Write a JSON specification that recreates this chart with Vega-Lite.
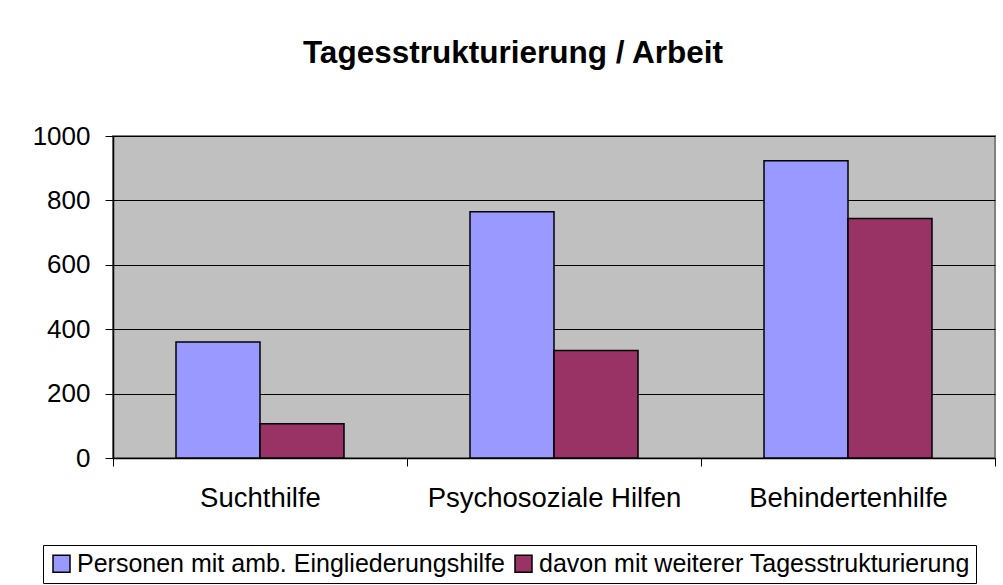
{
  "$schema": "https://vega.github.io/schema/vega-lite/v6.json",
  "width": 882,
  "height": 322,
  "autosize": {"type": "none"},
  "padding": {"left": 113, "top": 136, "right": 8, "bottom": 127},
  "background": "white",
  "title": {
    "text": "Tagesstrukturierung / Arbeit",
    "font": "Liberation Sans",
    "fontSize": 31.5,
    "fontWeight": "bold",
    "color": "black",
    "anchor": "middle",
    "frame": "group",
    "dx": -41,
    "offset": 54
  },
  "data": {
    "values": [
      {"category": "Suchthilfe", "series": "Personen mit amb. Eingliederungshilfe", "value": 360},
      {"category": "Suchthilfe", "series": "davon mit weiterer Tagesstrukturierung", "value": 106},
      {"category": "Psychosoziale Hilfen", "series": "Personen mit amb. Eingliederungshilfe", "value": 765},
      {"category": "Psychosoziale Hilfen", "series": "davon mit weiterer Tagesstrukturierung", "value": 334},
      {"category": "Behindertenhilfe", "series": "Personen mit amb. Eingliederungshilfe", "value": 923},
      {"category": "Behindertenhilfe", "series": "davon mit weiterer Tagesstrukturierung", "value": 744}
    ]
  },
  "mark": {"type": "bar", "stroke": "black", "strokeWidth": 1.5},
  "encoding": {
    "x": {
      "field": "category",
      "type": "nominal",
      "sort": ["Suchthilfe", "Psychosoziale Hilfen", "Behindertenhilfe"],
      "scale": {"paddingInner": 0, "paddingOuter": 0},
      "axis": {
        "title": null,
        "labelAngle": 0,
        "labelFont": "Liberation Sans",
        "labelFontSize": 27.5,
        "labelColor": "black",
        "labelPadding": 18,
        "labelLimit": 0,
        "tickBand": "extent",
        "tickSize": 8,
        "tickColor": "black",
        "domainColor": "black",
        "domainWidth": 1.5,
        "grid": false
      }
    },
    "xOffset": {
      "field": "series",
      "type": "nominal",
      "sort": ["Personen mit amb. Eingliederungshilfe", "davon mit weiterer Tagesstrukturierung"],
      "scale": {"paddingInner": 0, "paddingOuter": 0.75}
    },
    "y": {
      "field": "value",
      "type": "quantitative",
      "scale": {"domain": [0, 1000]},
      "axis": {
        "title": null,
        "values": [0, 200, 400, 600, 800, 1000],
        "format": "d",
        "labelFont": "Liberation Sans",
        "labelFontSize": 26,
        "labelColor": "black",
        "labelPadding": 15,
        "tickSize": 8,
        "tickColor": "black",
        "domainColor": "black",
        "domainWidth": 1.5,
        "grid": true,
        "gridColor": "black",
        "gridWidth": 1.2,
        "gridOpacity": 1
      }
    },
    "color": {
      "field": "series",
      "type": "nominal",
      "sort": ["Personen mit amb. Eingliederungshilfe", "davon mit weiterer Tagesstrukturierung"],
      "scale": {
        "domain": ["Personen mit amb. Eingliederungshilfe", "davon mit weiterer Tagesstrukturierung"],
        "range": ["#9999FF", "#993366"]
      },
      "legend": {
        "title": null,
        "orient": "none",
        "legendX": -70,
        "legendY": 409,
        "direction": "horizontal",
        "columns": 2,
        "strokeColor": "black",
        "padding": 6,
        "symbolType": "square",
        "symbolSize": 289,
        "symbolStrokeColor": "black",
        "symbolStrokeWidth": 1.5,
        "symbolOpacity": 1,
        "labelFont": "Liberation Sans",
        "labelFontSize": 25,
        "labelColor": "black",
        "labelLimit": 600,
        "labelOffset": 3,
        "columnPadding": 5
      }
    }
  },
  "config": {
    "view": {"fill": "#C0C0C0", "stroke": "#808080", "strokeWidth": 2}
  }
}
